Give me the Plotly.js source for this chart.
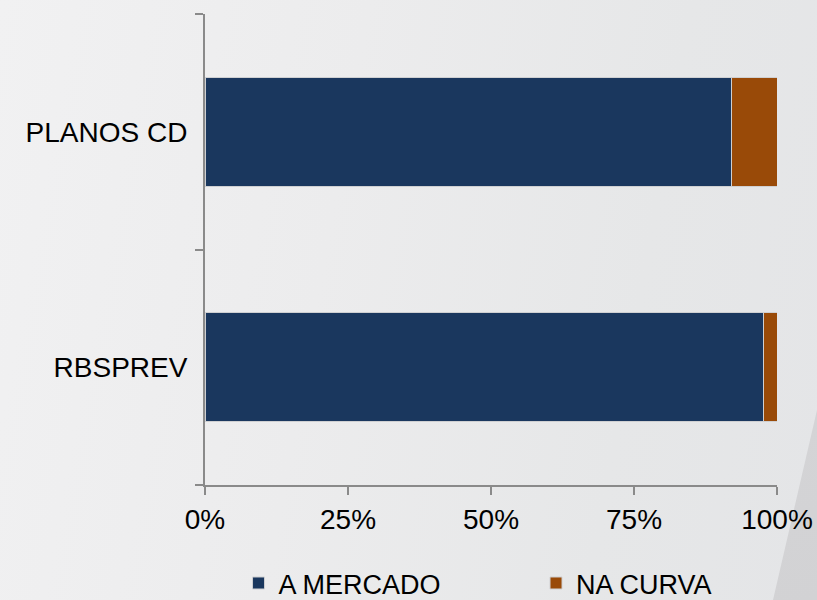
<!DOCTYPE html>
<html>
<head>
<meta charset="utf-8">
<script src="https://cdn.plot.ly/plotly-3.0.1.min.js"></script>
<style>
  html, body { margin: 0; padding: 0; }
  body {
    width: 817px; height: 600px; overflow: hidden; position: relative;
    background: linear-gradient(100deg, #f1f1f2 0%, #ececed 40%, #e6e7e8 75%, #e4e5e7 100%);
  }
  #shade {
    position: absolute; left: 0; top: 0; width: 817px; height: 600px;
    background: linear-gradient(160deg, #dcdcde 0%, #d2d2d4 100%);
    clip-path: polygon(817px 410px, 817px 600px, 773px 600px);
  }
  #chart { position: absolute; left: 0; top: 0; width: 817px; height: 600px; }
</style>
</head>
<body>
<div id="shade"></div>
<div id="chart"></div>
<script>
const categories = ["RBSPREV", "PLANOS CD"];
const seriesNames = ["A MERCADO", "NA CURVA"];
const aMercado = [0.977, 0.921];
const naCurva = [0.023, 0.079];
const xTickVals = [0, 0.25, 0.5, 0.75, 1];
const xTickText = ["0%", "25%", "50%", "75%", "100%"];

const colors = ["#1a375e", "#994a08"];
const legendIds = ["legend", "legend2"];
const font = "Liberation Sans, Arial, sans-serif";

const traces = [aMercado, naCurva].map((vals, i) => ({
  type: "bar",
  orientation: "h",
  name: seriesNames[i],
  legend: legendIds[i],
  y: categories,
  x: vals,
  width: 0.463,
  marker: { color: colors[i], line: { color: "#cfd0d2", width: 1 } },
  hoverinfo: "skip"
}));

const legendBase = {
  orientation: "h",
  xanchor: "left",
  y: -0.157, yanchor: "top",
  font: { size: 27, family: font, color: "#000" },
  bgcolor: "rgba(0,0,0,0)"
};

const layout = {
  width: 817, height: 600,
  margin: { l: 205, r: 40, t: 14, b: 115, autoexpand: false },
  paper_bgcolor: "rgba(0,0,0,0)",
  plot_bgcolor: "rgba(0,0,0,0)",
  barmode: "stack",
  showlegend: true,
  font: { family: font, color: "#000000" },
  xaxis: {
    range: [0, 1],
    tickvals: xTickVals,
    ticktext: xTickText,
    showgrid: false, zeroline: false,
    showline: true, linecolor: "#8a8a8a", linewidth: 2,
    ticks: "outside", ticklen: 8, tickwidth: 2, tickcolor: "#8a8a8a",
    tickfont: { size: 28, family: font, color: "#000" },
    automargin: false,
    fixedrange: true
  },
  yaxis: {
    type: "category",
    range: [-0.5, 1.5],
    tickson: "boundaries",
    showgrid: false, zeroline: false,
    showline: true, linecolor: "#8a8a8a", linewidth: 2,
    ticks: "outside", ticklen: 8, tickwidth: 2, tickcolor: "#8a8a8a",
    tickfont: { size: 28, family: font, color: "#000" },
    ticklabelstandoff: 10,
    automargin: false,
    fixedrange: true
  },
  legend: Object.assign({}, legendBase, { x: 0.0586 }),
  legend2: Object.assign({}, legendBase, { x: 0.5787 })
};

Plotly.newPlot("chart", traces, layout, { displayModeBar: false, staticPlot: true });
</script>
</body>
</html>
